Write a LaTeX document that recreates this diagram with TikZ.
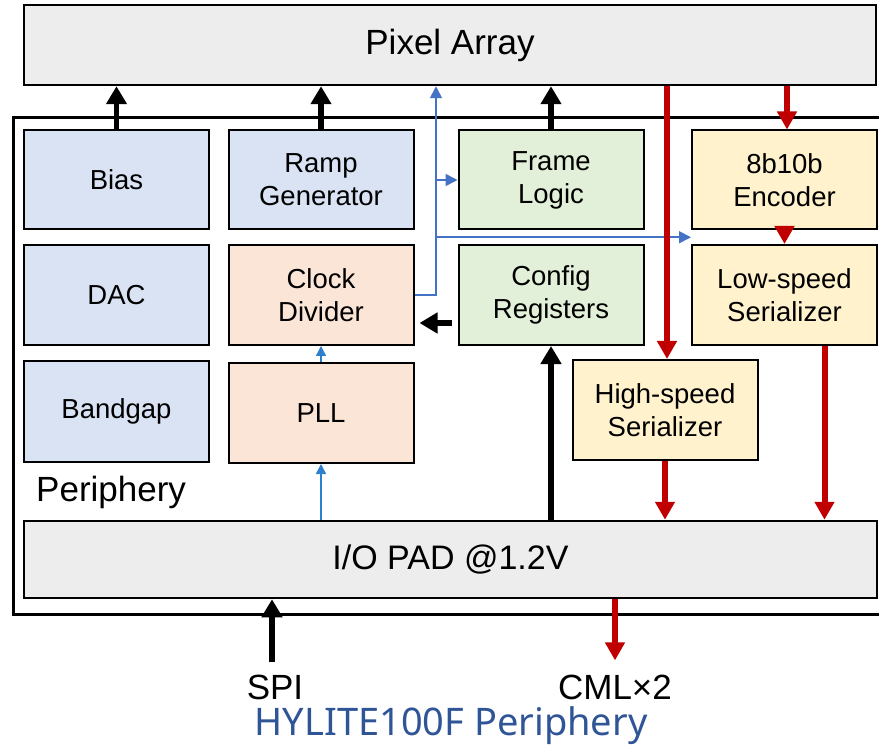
\documentclass[tikz,border=0pt]{standalone}
\usepackage{fontspec}
\setmainfont{Liberation Sans}
\newfontfamily\capfont{Noto Sans}
\usetikzlibrary{arrows.meta,calc}

\definecolor{padgrey}{HTML}{EDEDED}
\definecolor{analogblue}{HTML}{DAE3F3}
\definecolor{clockpeach}{HTML}{FBE5D6}
\definecolor{logicgreen}{HTML}{E2F0D9}
\definecolor{serialyellow}{HTML}{FFF2CC}
\definecolor{datared}{HTML}{C00000}
\definecolor{clkblue}{HTML}{4472C4}
\definecolor{pllblue}{HTML}{2E80CC}
\definecolor{titleblue}{HTML}{2F5597}

\tikzset{
  blockbox/.style={draw, line width=2pt, inner sep=0pt, align=center,
    minimum width=185pt, minimum height=99pt,
    font=\fontsize{27.5}{33}\selectfont},
  widebox/.style={draw, line width=2.5pt, fill=padgrey, inner sep=0pt,
    minimum width=853pt},
  ctrlarrow/.style={line width=5.5pt, black,
    -{Triangle[width=20pt,length=18pt]}},
  dataarrow/.style={line width=6pt, datared,
    -{Triangle[width=19pt,length=18pt]}},
  clkarrow/.style={line width=1.7pt, clkblue,
    -{Triangle[width=12pt,length=12pt]}},
  pllarrow/.style={line width=1.5pt, pllblue,
    -{Triangle[width=10pt,length=10pt]}},
  labeltext/.style={inner sep=0pt, font=\fontsize{35}{40}\selectfont},
}

\begin{document}
\begin{tikzpicture}[x=1pt,y=-1pt]
\useasboundingbox (0,0) rectangle (879,746);

% periphery frame
\draw[line width=3pt] (13,118) rectangle (890,614);
\node[labeltext, anchor=base west] (perilabel) at (36,501) {Periphery};

% pixel array and pads
\node[widebox, minimum width=852pt, minimum height=80pt,
  font=\fontsize{35}{40}\selectfont] (pix) at (450,45) {Pixel Array};
\node[widebox, minimum height=77pt,
  font=\fontsize{34}{40}\selectfont] (io) at (450.5,559.5) {I/O PAD @1.2V};

% functional blocks
\node[blockbox, fill=analogblue] (bias) at (116.5,180) {Bias};
\node[blockbox, fill=analogblue] (ramp) at (321,180) {Ramp\\Generator};
\node[blockbox, fill=logicgreen] (frame) at (551,180) {Frame\\Logic};
\node[blockbox, fill=serialyellow] (enc) at (784.5,180) {8b10b\\Encoder};

\node[blockbox, fill=analogblue, minimum height=100pt] (dac) at (116.5,295) {DAC};
\node[blockbox, fill=clockpeach, minimum height=100pt] (clk) at (321,295) {Clock\\Divider};
\node[blockbox, fill=logicgreen, minimum height=100pt] (cfg) at (551,295) {Config\\Registers};
\node[blockbox, fill=serialyellow, minimum height=100pt] (lss) at (784.5,295) {Low-speed\\Serializer};

\node[blockbox, fill=analogblue, minimum height=101pt] (bg) at (116.5,411.5) {Bandgap};
\node[blockbox, fill=clockpeach, minimum height=100pt] (pll) at (321,413) {PLL};
\node[blockbox, fill=serialyellow, minimum height=100pt] (hss) at (665,410) {High-speed\\Serializer};

% external pins
\node[labeltext, anchor=base] (spi) at (275,699) {SPI};
\node[labeltext, anchor=base] (cml) at (615,699) {CML×2};
\node[inner sep=0pt, anchor=base, text=titleblue,
  font=\capfont\fontsize{38}{42}\selectfont] (title) at (451,735) {HYLITE100F Periphery};

% control paths into the pixel array
\draw[ctrlarrow] (bias.north) -- (bias.north |- pix.south);
\draw[ctrlarrow] (ramp.north) -- (ramp.north |- pix.south);
\draw[ctrlarrow] (frame.north) -- (frame.north |- pix.south);

% clock distribution
\coordinate (bus) at (436,0);
\coordinate (gap) at ($(enc.south west)!0.5!(lss.north west)$);
\draw[clkarrow] (clk.east) -| (bus |- pix.south);
\draw[clkarrow] (bus |- frame.west) -- (frame.west);
\draw[clkarrow] (bus |- gap) -- (gap);
\draw[pllarrow] (pll.north) -- (clk.south);
\draw[pllarrow] (pll.south |- io.north) -- (pll.south);

% configuration
\draw[ctrlarrow] ($(cfg.west)+(-6,28)$) -- ($(clk.east)+(5,28)$);
\draw[ctrlarrow] (cfg.south |- io.north) -- (cfg.south);
\draw[ctrlarrow] ([xshift=-3pt,yshift=12pt]spi.north) -- ([xshift=-3pt]spi.north |- io.south);

% data readout
\draw[dataarrow] ([xshift=2pt]hss.north |- pix.south) -- ([xshift=2pt]hss.north);
\draw[dataarrow] ([xshift=2.5pt]enc.north |- pix.south) -- ([xshift=2.5pt]enc.north);
\draw[dataarrow] (enc.south) -- (lss.north);
\draw[dataarrow] (hss.south) -- (hss.south |- io.north);
\draw[dataarrow] ([xshift=40pt]lss.south) -- ([xshift=40pt]lss.south |- io.north);
\draw[dataarrow] (cml |- io.south) -- ([yshift=14pt]cml.north);
\end{tikzpicture}
\end{document}
